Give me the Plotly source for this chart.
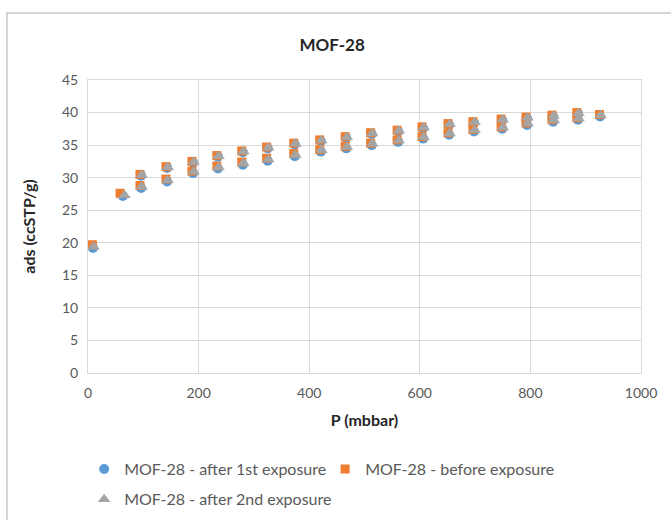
import plotly.graph_objects as go

# Adsorption isotherms of MOF-28 (pressure in mbar, uptake in ccSTP/g).
# Each series holds the adsorption branch followed by the desorption branch.

# After 1st exposure
p_first = [9, 63, 96, 143, 190, 235, 280, 325, 374, 421, 467, 513, 561, 606, 653, 698, 749, 794, 841, 886, 926,
           886, 841, 794, 749, 698, 653, 606, 561, 513, 467, 421, 374, 325, 280, 235, 190, 143, 96]
ads_first = [19.2, 27.2, 28.4, 29.4, 30.7, 31.4, 32.0, 32.6, 33.3, 34.0, 34.5, 35.0, 35.5, 36.0, 36.6, 37.1, 37.5, 38.1, 38.6, 38.9, 39.4,
             39.8, 39.4, 39.1, 38.8, 38.4, 38.1, 37.6, 37.1, 36.7, 36.1, 35.6, 35.1, 34.5, 33.9, 33.2, 32.3, 31.5, 30.3]

# Before exposure
p_before = [8, 58, 94, 141, 188, 233, 278, 323, 372, 419, 465, 511, 559, 604, 651, 696, 747, 792, 839, 884, 925,
            884, 839, 792, 747, 696, 651, 604, 559, 511, 465, 419, 372, 323, 278, 233, 188, 141, 94]
ads_before = [19.7, 27.6, 28.8, 29.8, 31.0, 31.8, 32.4, 33.0, 33.7, 34.3, 34.8, 35.3, 35.8, 36.3, 36.9, 37.4, 37.8, 38.4, 38.9, 39.2, 39.7,
              40.0, 39.6, 39.3, 39.0, 38.6, 38.3, 37.8, 37.3, 36.9, 36.3, 35.8, 35.3, 34.7, 34.1, 33.4, 32.5, 31.7, 30.5]

# After 2nd exposure
p_second = [10, 66, 97, 144, 191, 236, 281, 326, 375, 422, 468, 514, 562, 607, 654, 699, 750, 795, 842, 887, 927,
            887, 842, 795, 750, 699, 654, 607, 562, 514, 468, 422, 375, 326, 281, 236, 191, 144, 97]
ads_second = [19.4, 27.3, 28.6, 29.6, 30.9, 31.6, 32.2, 32.8, 33.5, 34.2, 34.7, 35.2, 35.7, 36.2, 36.8, 37.3, 37.7, 38.3, 38.8, 39.1, 39.6,
              39.9, 39.5, 39.2, 38.9, 38.5, 38.2, 37.7, 37.2, 36.8, 36.2, 35.7, 35.2, 34.6, 34.0, 33.3, 32.4, 31.6, 30.4]

x_ticks = [0, 200, 400, 600, 800, 1000]
y_ticks = [0, 5, 10, 15, 20, 25, 30, 35, 40, 45]

FONT = "Lato"
TEXT = "#595959"
GRID = "#D9D9D9"

fig = go.Figure()
fig.add_trace(go.Scatter(
    x=p_first, y=ads_first, mode="markers", name="MOF-28 - after 1st exposure",
    marker=dict(symbol="circle", size=10, color="#5B9BD5"), legend="legend"))
fig.add_trace(go.Scatter(
    x=p_before, y=ads_before, mode="markers", name="MOF-28 - before exposure",
    marker=dict(symbol="square", size=9, color="#ED7D31"), legend="legend"))
fig.add_trace(go.Scatter(
    x=p_second, y=ads_second, mode="markers", name="MOF-28 - after 2nd exposure",
    marker=dict(symbol="triangle-up", size=11, color="#A5A5A5"), legend="legend2"))

# light frame around the whole chart
fig.add_shape(type="rect", xref="paper", yref="paper",
              x0=-0.1465, x1=1.08, y0=-0.56, y1=1.2287,
              line=dict(color="#C8C8C8", width=1.5), fillcolor="rgba(0,0,0,0)", layer="below")

legend_style = dict(orientation="h", xanchor="left", yanchor="top", bgcolor="rgba(0,0,0,0)",
                    font=dict(size=16, color=TEXT), itemwidth=30)

fig.update_layout(
    width=671, height=520,
    margin=dict(l=88, r=30, t=80, b=147, autoexpand=False),
    paper_bgcolor="white", plot_bgcolor="white",
    font=dict(family=FONT, color=TEXT, size=14),
    title=dict(text="<b>MOF-28</b>", x=0.495, xanchor="center", y=0.913, yanchor="middle",
               font=dict(family=FONT, size=17, color="#262626")),
    xaxis=dict(range=[0, 1000], tickvals=x_ticks, showgrid=True, gridcolor=GRID, gridwidth=1,
               showline=True, linecolor=GRID, mirror=True, zeroline=False,
               ticks="", ticklabelstandoff=7, tickfont=dict(size=14, color=TEXT),
               title=dict(text="<b>P (mbbar)</b>", font=dict(size=16, color="#262626"), standoff=15)),
    yaxis=dict(range=[0, 45], tickvals=y_ticks, showgrid=True, gridcolor=GRID, gridwidth=1,
               showline=True, linecolor=GRID, mirror=True, zeroline=False,
               ticks="", ticklabelstandoff=6, tickfont=dict(size=14, color=TEXT),
               title=dict(text="<b>ads (ccSTP/g)</b>", font=dict(size=16, color="#262626"), standoff=22)),
    legend=dict(x=-0.007, y=-0.27, entrywidth=196, **legend_style),
    legend2=dict(x=-0.007, y=-0.373, **legend_style),
)

fig.write_html("out.html")
